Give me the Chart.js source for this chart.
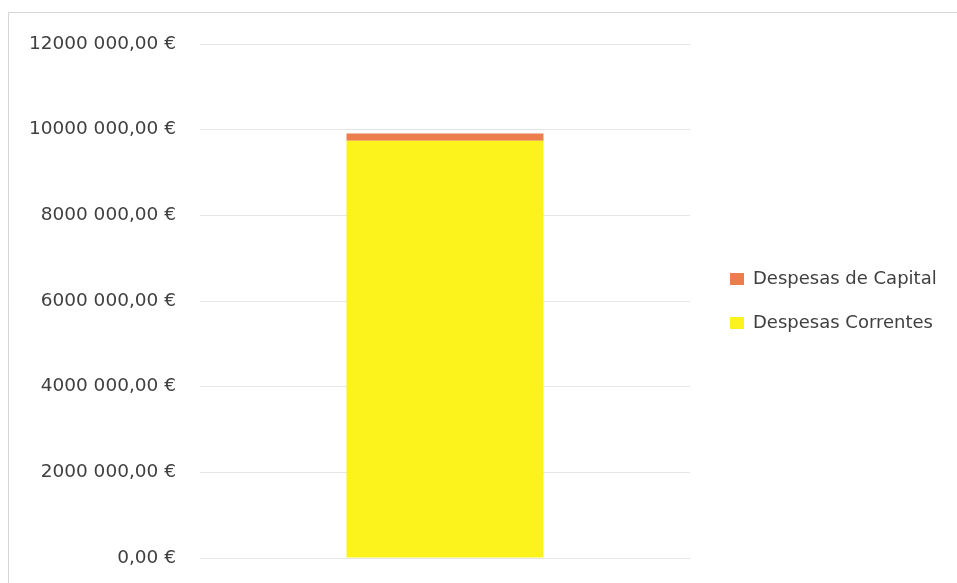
<!DOCTYPE html>
<html>
<head>
<meta charset="utf-8">
<script src="https://cdn.jsdelivr.net/npm/chart.js@4/dist/chart.umd.min.js"></script>
<style>
html,body{margin:0;padding:0;background:#fff;}
#wrap{position:relative;width:957px;height:583px;}
</style>
</head>
<body>
<div id="wrap"><canvas id="c" width="957" height="583"></canvas></div>
<script>
const categories = [""];
const seriesNames = ["Despesas Correntes", "Despesas de Capital"];
const despesasCorrentes = [9740000];
const despesasCapital = [170000];
const yTicks = [0, 2000000, 4000000, 6000000, 8000000, 10000000, 12000000];

function fmtEuro(v){
  if (v === 0) return "0,00 €";
  const th = Math.floor(v / 1000);
  const rest = String(v % 1000).padStart(3, "0");
  return th + " " + rest + ",00 €";
}

const framePlugin = {
  id: "frame",
  beforeLayout(chart){
    const lg = chart.legend;
    if (lg && !lg._patched){
      const orig = lg.fit;
      lg.fit = function(){ orig.call(this); this.width = 267; };
      lg._patched = true;
    }
  },
  afterLayout(chart){
    if (chart.legend) { chart.legend.left += 14; }
  },
  beforeDraw(chart){
    const ctx = chart.ctx;
    ctx.save();
    ctx.fillStyle = "#fff";
    ctx.fillRect(0,0,chart.width,chart.height);
    ctx.strokeStyle = "#d6d6d6";
    ctx.lineWidth = 1;
    ctx.beginPath();
    ctx.moveTo(8.5, 583); ctx.lineTo(8.5, 12.5); ctx.lineTo(957, 12.5);
    ctx.stroke();
    ctx.restore();
  }
};

new Chart(document.getElementById("c"), {
  type: "bar",
  data: {
    labels: categories,
    datasets: [
      { label: seriesNames[0], data: despesasCorrentes, backgroundColor: "#FCF21C", borderWidth: 0 },
      { label: seriesNames[1], data: despesasCapital, backgroundColor: "#EC7E4E", borderWidth: 0 }
    ]
  },
  options: {
    responsive: false,
    animation: false,
    layout: { padding: { left: 10, right: 0, top: 44, bottom: 25 } },
    datasets: { bar: { categoryPercentage: 1, barPercentage: 0.402 } },
    plugins: {
      legend: {
        position: "right",
        reverse: true,
        labels: {
          boxWidth: 14, boxHeight: 12, padding: 26,
          color: "#404040",
          font: { family: "DejaVu Sans", size: 18 }
        }
      },
      tooltip: { enabled: false }
    },
    scales: {
      x: { stacked: true, display: false },
      y: {
        stacked: true,
        min: 0, max: 12000000,
        afterBuildTicks(scale){ scale.ticks = yTicks.map(v => ({value: v})); },
        afterFit(scale){ scale.width = 190; scale.paddingTop = 0; scale.paddingBottom = 0; },
        border: { display: false },
        grid: { color: "#e6e6e6", drawTicks: false },
        ticks: {
          padding: 24,
          color: "#404040",
          font: { family: "DejaVu Sans", size: 18.5 },
          callback: v => fmtEuro(v)
        }
      }
    }
  },
  plugins: [framePlugin]
});
</script>
</body>
</html>
